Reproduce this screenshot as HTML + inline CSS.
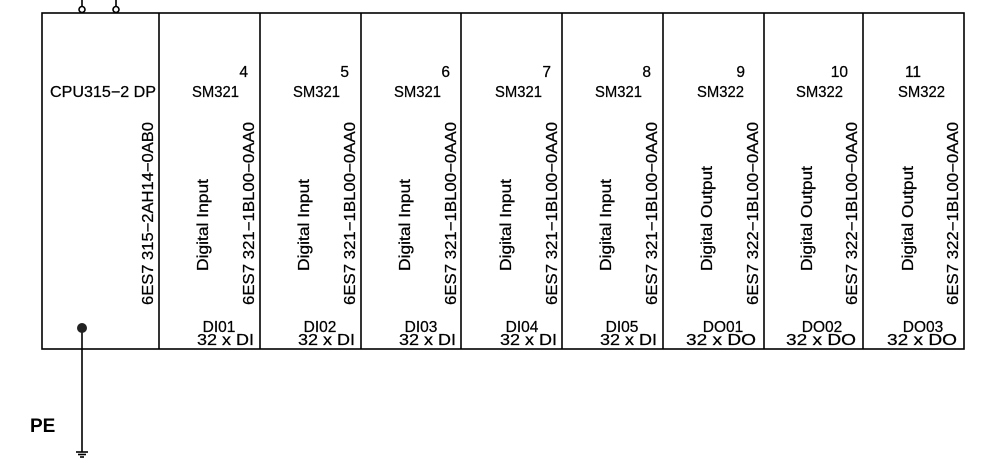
<!DOCTYPE html>
<html><head><meta charset="utf-8"><style>
html,body{margin:0;padding:0;background:#fff;width:986px;height:464px;overflow:hidden}
svg text{font-family:"Liberation Sans",sans-serif;font-size:15.5px;fill:#000;stroke:#000;stroke-width:0.25}
</style></head><body>
<svg width="986" height="464" viewBox="0 0 986 464" xmlns="http://www.w3.org/2000/svg">
<g stroke="#000" stroke-width="1.6" fill="none">
<rect x="42" y="13" width="922" height="336"/>
<line x1="159" y1="13" x2="159" y2="349"/>
<line x1="260" y1="13" x2="260" y2="349"/>
<line x1="361" y1="13" x2="361" y2="349"/>
<line x1="461" y1="13" x2="461" y2="349"/>
<line x1="562" y1="13" x2="562" y2="349"/>
<line x1="663" y1="13" x2="663" y2="349"/>
<line x1="764" y1="13" x2="764" y2="349"/>
<line x1="863" y1="13" x2="863" y2="349"/>
<line x1="82" y1="0" x2="82" y2="6"/>
<line x1="116" y1="0" x2="116" y2="6"/>
<circle cx="82" cy="9.5" r="3" fill="#fff"/>
<circle cx="116" cy="9.5" r="3" fill="#fff"/>
<line x1="82" y1="328" x2="82" y2="452"/>
<line x1="76" y1="452" x2="88" y2="452"/>
<line x1="78" y1="454.5" x2="86" y2="454.5"/>
<line x1="80" y1="457" x2="84" y2="457"/>
</g>
<circle cx="82" cy="328" r="5" fill="#222"/>
<text x="30" y="432" style="font-weight:bold;font-size:19px;stroke:none">PE</text>
<text x="50" y="97" textLength="106" lengthAdjust="spacingAndGlyphs">CPU315−2 DP</text>
<text transform="translate(153,305) rotate(-90)" textLength="183" lengthAdjust="spacingAndGlyphs">6ES7 315−2AH14−0AB0</text>
<g>
<text x="248" y="77" text-anchor="end">4</text><text x="192" y="97" textLength="47" lengthAdjust="spacingAndGlyphs">SM321</text>
<text transform="translate(208,271) rotate(-90)" textLength="92" lengthAdjust="spacingAndGlyphs">Digital Input</text>
<text transform="translate(254,305) rotate(-90)" textLength="183" lengthAdjust="spacingAndGlyphs">6ES7 321−1BL00−0AA0</text>
<text x="219" y="332" text-anchor="middle">DI01</text><text x="197" y="345" textLength="57" lengthAdjust="spacingAndGlyphs">32 x DI</text>
</g>
<g>
<text x="349" y="77" text-anchor="end">5</text><text x="293" y="97" textLength="47" lengthAdjust="spacingAndGlyphs">SM321</text>
<text transform="translate(309,271) rotate(-90)" textLength="92" lengthAdjust="spacingAndGlyphs">Digital Input</text>
<text transform="translate(355,305) rotate(-90)" textLength="183" lengthAdjust="spacingAndGlyphs">6ES7 321−1BL00−0AA0</text>
<text x="320" y="332" text-anchor="middle">DI02</text><text x="298" y="345" textLength="57" lengthAdjust="spacingAndGlyphs">32 x DI</text>
</g>
<g>
<text x="450" y="77" text-anchor="end">6</text><text x="394" y="97" textLength="47" lengthAdjust="spacingAndGlyphs">SM321</text>
<text transform="translate(410,271) rotate(-90)" textLength="92" lengthAdjust="spacingAndGlyphs">Digital Input</text>
<text transform="translate(456,305) rotate(-90)" textLength="183" lengthAdjust="spacingAndGlyphs">6ES7 321−1BL00−0AA0</text>
<text x="421" y="332" text-anchor="middle">DI03</text><text x="399" y="345" textLength="57" lengthAdjust="spacingAndGlyphs">32 x DI</text>
</g>
<g>
<text x="551" y="77" text-anchor="end">7</text><text x="495" y="97" textLength="47" lengthAdjust="spacingAndGlyphs">SM321</text>
<text transform="translate(511,271) rotate(-90)" textLength="92" lengthAdjust="spacingAndGlyphs">Digital Input</text>
<text transform="translate(557,305) rotate(-90)" textLength="183" lengthAdjust="spacingAndGlyphs">6ES7 321−1BL00−0AA0</text>
<text x="522" y="332" text-anchor="middle">DI04</text><text x="500" y="345" textLength="57" lengthAdjust="spacingAndGlyphs">32 x DI</text>
</g>
<g>
<text x="651" y="77" text-anchor="end">8</text><text x="595" y="97" textLength="47" lengthAdjust="spacingAndGlyphs">SM321</text>
<text transform="translate(611,271) rotate(-90)" textLength="92" lengthAdjust="spacingAndGlyphs">Digital Input</text>
<text transform="translate(657,305) rotate(-90)" textLength="183" lengthAdjust="spacingAndGlyphs">6ES7 321−1BL00−0AA0</text>
<text x="622" y="332" text-anchor="middle">DI05</text><text x="600" y="345" textLength="57" lengthAdjust="spacingAndGlyphs">32 x DI</text>
</g>
<g>
<text x="745" y="77" text-anchor="end">9</text><text x="697" y="97" textLength="47" lengthAdjust="spacingAndGlyphs">SM322</text>
<text transform="translate(712,271) rotate(-90)" textLength="105" lengthAdjust="spacingAndGlyphs">Digital Output</text>
<text transform="translate(758,305) rotate(-90)" textLength="183" lengthAdjust="spacingAndGlyphs">6ES7 322−1BL00−0AA0</text>
<text x="723" y="332" text-anchor="middle">DO01</text><text x="686" y="345" textLength="70" lengthAdjust="spacingAndGlyphs">32 x DO</text>
</g>
<g>
<text x="848" y="77" text-anchor="end">10</text><text x="796" y="97" textLength="47" lengthAdjust="spacingAndGlyphs">SM322</text>
<text transform="translate(812,271) rotate(-90)" textLength="105" lengthAdjust="spacingAndGlyphs">Digital Output</text>
<text transform="translate(857,305) rotate(-90)" textLength="183" lengthAdjust="spacingAndGlyphs">6ES7 322−1BL00−0AA0</text>
<text x="822" y="332" text-anchor="middle">DO02</text><text x="786" y="345" textLength="70" lengthAdjust="spacingAndGlyphs">32 x DO</text>
</g>
<g>
<text x="913" y="77" text-anchor="middle">11</text><text x="898" y="97" textLength="47" lengthAdjust="spacingAndGlyphs">SM322</text>
<text transform="translate(913,271) rotate(-90)" textLength="105" lengthAdjust="spacingAndGlyphs">Digital Output</text>
<text transform="translate(958,305) rotate(-90)" textLength="183" lengthAdjust="spacingAndGlyphs">6ES7 322−1BL00−0AA0</text>
<text x="923" y="332" text-anchor="middle">DO03</text><text x="887" y="345" textLength="70" lengthAdjust="spacingAndGlyphs">32 x DO</text>
</g>
</svg>
</body></html>
